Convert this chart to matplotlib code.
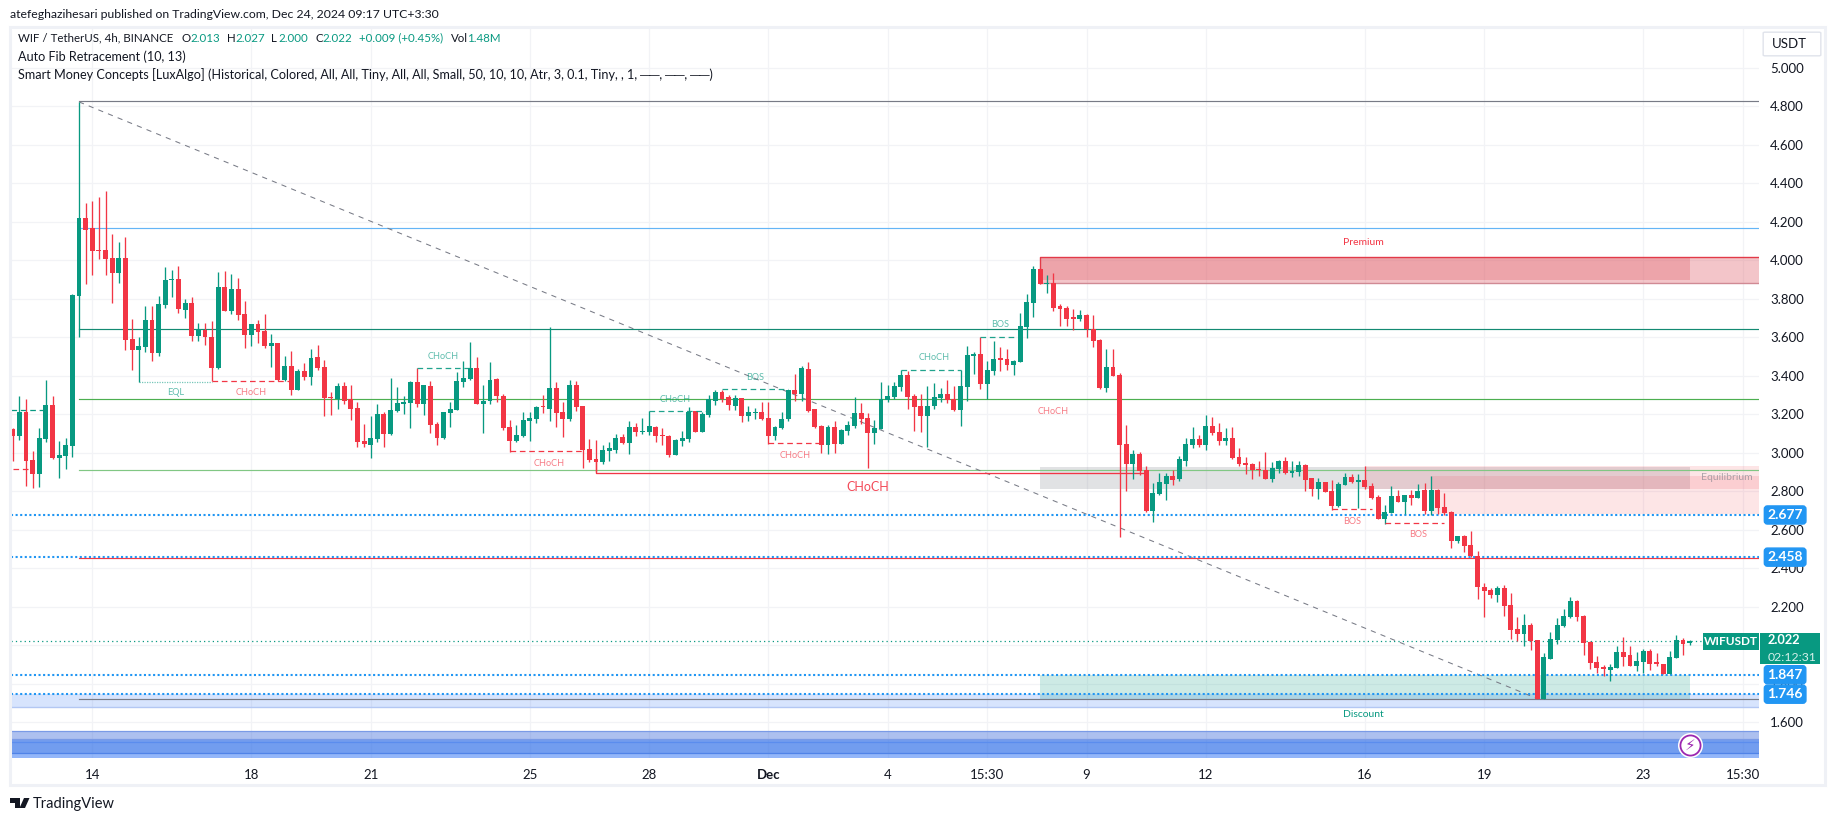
import matplotlib
matplotlib.use("Agg")
import matplotlib.pyplot as plt
from matplotlib.patches import Rectangle, FancyBboxPatch, Polygon
import numpy as np

plt.rcParams['font.family'] = ['Lato', 'DejaVu Sans']

# one 4h candle per entry
opens = [3.122,3.087,3.212,2.962,2.890,3.072,3.248,2.973,2.983,3.035,
         3.815,4.22,4.168,4.052,4.054,4.012,3.934,4.012,3.591,3.534,
         3.55,3.69,3.518,3.768,3.898,3.903,3.742,3.778,3.607,3.638,
         3.602,3.44,3.861,3.737,3.851,3.721,3.612,3.669,3.633,3.555,
         3.57,3.378,3.451,3.326,3.425,3.394,3.498,3.446,3.288,3.279,
         3.347,3.278,3.233,3.061,3.04,3.072,3.201,3.098,3.217,3.254,
         3.259,3.368,3.254,3.347,3.15,3.077,3.207,3.222,3.368,3.383,
         3.441,3.254,3.269,3.383,3.295,3.134,3.061,3.087,3.165,3.176,
         3.24,3.228,3.337,3.212,3.176,3.352,3.243,3.02,2.968,2.952,
         3.009,3.015,3.082,3.051,3.134,3.106,3.108,3.134,3.091,3.087,
         2.989,3.061,3.072,3.217,3.108,3.196,3.269,3.316,3.29,3.243,
         3.285,3.191,3.207,3.212,3.181,3.087,3.129,3.176,3.326,3.306,
         3.435,3.228,3.139,3.041,3.134,3.046,3.113,3.139,3.207,3.181,
         3.103,3.124,3.274,3.29,3.342,3.404,3.295,3.243,3.191,3.243,
         3.285,3.306,3.28,3.222,3.342,3.503,3.513,3.358,3.425,3.487,
         3.487,3.456,3.472,3.654,3.778,3.955,3.877,3.882,3.763,3.752,
         3.701,3.695,3.716,3.641,3.586,3.337,3.446,3.404,3.046,2.942,
         2.994,2.911,2.698,2.785,2.838,2.879,2.864,2.957,3.04,3.072,
         3.04,3.139,3.108,3.061,3.077,2.978,2.947,2.942,2.914,2.911,
         2.864,2.916,2.957,2.895,2.9,2.936,2.867,2.811,2.848,2.801,
         2.723,2.832,2.874,2.848,2.858,2.827,2.77,2.655,2.687,2.775,
         2.744,2.78,2.764,2.806,2.697,2.806,2.718,2.692,2.541,2.567,
         2.52,2.463,2.305,2.289,2.263,2.30,2.211,2.086,2.061,2.107,
         2.029,1.723,1.931,2.029,2.102,2.149,2.232,2.154,2.019,1.915,
         1.889,1.873,1.884,1.967,1.951,1.894,1.915,1.972,1.91,1.905,
         1.853,1.936,2.029,2.013]
highs = [3.130,3.295,3.279,3.009,3.129,3.378,3.295,3.061,3.077,3.825,
         4.823,4.298,4.308,4.329,4.36,4.137,4.095,4.121,3.695,3.602,
         3.763,3.763,3.815,3.965,3.95,3.97,3.799,3.809,3.674,3.674,
         3.685,3.939,3.944,3.929,3.908,3.789,3.669,3.69,3.721,3.617,
         3.57,3.503,3.529,3.435,3.466,3.539,3.56,3.482,3.316,3.363,
         3.368,3.352,3.264,3.15,3.191,3.253,3.212,3.389,3.342,3.295,
         3.373,3.441,3.352,3.373,3.16,3.212,3.264,3.42,3.477,3.576,
         3.498,3.352,3.472,3.389,3.306,3.17,3.144,3.212,3.212,3.243,
         3.30,3.654,3.368,3.264,3.378,3.373,3.243,3.072,3.067,3.041,
         3.056,3.098,3.098,3.165,3.155,3.181,3.217,3.139,3.129,3.093,
         3.072,3.113,3.238,3.217,3.212,3.30,3.326,3.326,3.30,3.30,
         3.285,3.243,3.233,3.264,3.264,3.139,3.212,3.326,3.409,3.451,
         3.472,3.23,3.144,3.144,3.165,3.124,3.165,3.29,3.259,3.207,
         3.17,3.368,3.352,3.368,3.43,3.425,3.306,3.306,3.347,3.363,
         3.337,3.378,3.347,3.43,3.555,3.524,3.602,3.477,3.581,3.55,
         3.539,3.48,3.726,3.825,3.971,3.96,3.924,3.934,3.773,3.763,
         3.747,3.742,3.721,3.716,3.591,3.539,3.539,3.415,3.144,3.015,
         3.004,2.931,2.843,2.895,2.895,2.911,2.983,3.077,3.134,3.092,
         3.196,3.186,3.155,3.129,3.134,3.025,2.978,2.947,2.957,3.004,
         2.952,2.962,2.978,2.957,2.957,2.94,2.87,2.867,2.85,2.858,
         2.848,2.894,2.889,2.889,2.931,2.842,2.78,2.728,2.827,2.806,
         2.782,2.806,2.837,2.842,2.879,2.81,2.79,2.697,2.57,2.572,
         2.593,2.489,2.326,2.30,2.31,2.315,2.274,2.149,2.164,2.118,
         2.03,1.962,2.071,2.144,2.19,2.253,2.237,2.156,2.02,1.946,
         1.899,1.905,1.998,2.045,1.998,1.967,1.983,1.983,1.962,1.905,
         1.972,2.055,2.04,2.027]
lows = [2.957,3.066,2.827,2.817,2.822,3.056,2.968,2.869,2.916,2.978,
        3.60,3.877,3.924,4.007,3.924,3.778,3.882,3.534,3.43,3.366,
        3.524,3.477,3.503,3.752,3.809,3.726,3.70,3.581,3.581,3.56,
        3.371,3.435,3.737,3.721,3.69,3.544,3.555,3.57,3.544,3.446,
        3.373,3.373,3.30,3.326,3.378,3.352,3.43,3.191,3.196,3.227,
        3.253,3.17,3.03,3.03,2.973,3.056,3.03,3.092,3.212,3.202,
        3.129,3.238,3.196,3.101,3.041,3.072,3.134,3.222,3.342,3.378,
        3.254,3.101,3.254,3.264,3.119,3.006,3.056,3.082,3.061,3.155,
        3.207,3.165,3.134,3.082,3.165,3.217,2.921,2.952,2.90,2.942,
        2.957,2.999,3.046,2.994,3.087,3.098,3.093,3.056,3.041,2.978,
        2.989,3.035,3.056,3.108,3.108,3.187,3.248,3.264,3.222,3.222,
        3.16,3.165,3.176,3.17,3.046,3.067,3.124,3.165,3.269,3.269,
        3.212,3.129,3.0,2.994,3.0,3.046,3.093,3.129,3.15,2.921,
        3.046,3.124,3.264,3.28,3.321,3.228,3.113,3.108,3.03,3.228,
        3.264,3.26,3.217,3.139,3.269,3.409,3.332,3.28,3.404,3.425,
        3.43,3.404,3.472,3.596,3.706,3.875,3.83,3.737,3.659,3.659,
        3.638,3.685,3.602,3.55,3.331,3.316,3.399,2.562,2.801,2.864,
        2.885,2.692,2.64,2.781,2.755,2.833,2.853,2.931,3.025,3.03,
        3.015,3.092,3.04,3.04,2.968,2.931,2.89,2.864,2.879,2.864,
        2.848,2.895,2.89,2.874,2.879,2.801,2.775,2.759,2.794,2.702,
        2.718,2.832,2.842,2.712,2.811,2.759,2.655,2.629,2.687,2.744,
        2.681,2.728,2.764,2.681,2.676,2.681,2.676,2.505,2.53,2.484,
        2.46,2.24,2.149,2.248,2.227,2.154,2.035,2.024,1.998,1.977,
        1.723,1.723,1.931,2.009,2.097,2.144,2.128,1.951,1.879,1.858,
        1.842,1.816,1.884,1.894,1.894,1.868,1.858,1.873,1.894,1.853,
        1.853,1.936,1.951,2.0]
closes = [3.087,3.212,2.957,2.890,3.077,3.248,2.973,2.988,3.040,3.820,
          4.22,4.158,4.048,4.048,4.007,3.934,4.012,3.586,3.534,3.555,
          3.69,3.518,3.773,3.898,3.903,3.747,3.778,3.607,3.643,3.602,
          3.44,3.861,3.737,3.851,3.716,3.612,3.669,3.628,3.555,3.57,
          3.378,3.451,3.326,3.425,3.394,3.492,3.44,3.285,3.283,3.347,
          3.269,3.227,3.056,3.046,3.077,3.201,3.098,3.222,3.259,3.264,
          3.368,3.254,3.352,3.144,3.077,3.212,3.228,3.373,3.389,3.441,
          3.254,3.269,3.378,3.295,3.129,3.061,3.093,3.17,3.181,3.238,
          3.236,3.337,3.207,3.176,3.352,3.238,3.015,2.963,2.952,3.015,
          3.025,3.077,3.051,3.134,3.108,3.113,3.139,3.087,3.087,2.989,
          3.067,3.077,3.212,3.108,3.202,3.278,3.316,3.278,3.248,3.285,
          3.191,3.212,3.21,3.176,3.087,3.134,3.176,3.326,3.306,3.441,
          3.217,3.134,3.041,3.134,3.046,3.118,3.144,3.207,3.176,3.103,
          3.129,3.28,3.295,3.347,3.404,3.29,3.238,3.191,3.243,3.29,
          3.306,3.274,3.222,3.347,3.508,3.513,3.358,3.43,3.487,3.484,
          3.456,3.477,3.659,3.784,3.955,3.877,3.882,3.752,3.747,3.695,
          3.697,3.716,3.641,3.581,3.337,3.446,3.399,3.04,2.942,2.994,
          2.905,2.698,2.791,2.848,2.879,2.859,2.968,3.046,3.072,3.04,
          3.139,3.103,3.061,3.077,2.973,2.942,2.936,2.911,2.909,2.864,
          2.921,2.957,2.895,2.905,2.936,2.859,2.811,2.848,2.796,2.723,
          2.837,2.874,2.848,2.858,2.822,2.764,2.655,2.692,2.775,2.744,
          2.78,2.764,2.801,2.697,2.806,2.712,2.687,2.541,2.567,2.515,
          2.463,2.302,2.284,2.263,2.30,2.206,2.081,2.061,2.107,2.024,
          1.723,1.941,2.035,2.107,2.154,2.232,2.149,2.014,1.91,1.884,
          1.879,1.889,1.967,1.941,1.894,1.92,1.972,1.905,1.905,1.853,
          1.941,2.029,2.009,2.022]

# x axis: candle number of each label
tick_pos = [12,36,54,78,96,114,132,147,162,180,204,222,246,261]
tick_txt = ["14","18","21","25","28","Dec","4","15:30","9","12","16","19","23","15:30"]
price_ticks = [1.6,1.8,2.0,2.2,2.4,2.6,2.8,3.0,3.2,3.4,3.6,3.8,4.0,4.2,4.4,4.6,4.8,5.0]

# fib levels, all start at the swing high candle
fib_levels = [4.826,4.166,3.642,3.278,2.911,2.454,1.722]
fib_colors = ["#787b86","#64b5f6","#138a72","#4caf50","#81c784","#f23645","#787b86"]
dotted_levels = [2.677,2.458,1.847,1.746]

# smart money structure: level, first candle, last candle, label, label candle, label price
up_struct = [(3.366,19,30,"EQL",24.5,3.312),
             (3.439,61,69,"CHoCH",65,3.50),
             (3.215,96,105,"CHoCH",100,3.278),
             (3.33,107,117,"BOS",112,3.39),
             (3.428,134,143,"CHoCH",139,3.496),
             (3.60,146,152,"BOS",149,3.668)]
down_struct = [(3.371,30,42,"CHoCH",36,3.312),
               (3.008,75,86,"CHoCH",81,2.945),
               (3.049,114,122,"CHoCH",118,2.985),
               (2.706,199,205,"BOS",202,2.641),
               (2.633,207,216,"BOS",212,2.575)]

up = "#089981"
down = "#f23645"
ink = "#131722"
W, H = 1835, 821

fig = plt.figure(figsize=(W/100, H/100), dpi=100, facecolor="white")
ax = fig.add_axes([11/W, 1-758/H, (1759-11)/W, (758-28)/H])
ax.set_xlim(-0.266, 263.46)
ax.set_ylim(1.4145, 5.207)
right = 263.46

# frame round the whole chart
fig.add_artist(Rectangle((10/W, 1-785/H), 1815/W, 758/H, transform=fig.transFigure, fill=False, ec="#eff1f6", lw=2.2))

ax.set_axisbelow(True)
ax.grid(True, color="#f2f3f6", lw=0.9)
ax.set_xticks(tick_pos)
ax.set_xticklabels(tick_txt, fontsize=9.5, color=ink)
ax.get_xticklabels()[5].set_fontweight("bold")
ax.yaxis.tick_right()
ax.set_yticks(price_ticks)
ax.set_yticklabels(["%.3f" % p for p in price_ticks], fontsize=9.5, color=ink)
ax.tick_params(axis="both", length=0)
ax.tick_params(axis="y", pad=8)
ax.tick_params(axis="x", pad=8)
for s in ax.spines.values():
    s.set_visible(False)

# blue bands
ax.axhspan(1.678, 1.746, color="#3b78f5", alpha=0.2, lw=0, zorder=1)
ax.axhline(1.678, color="#b3c7f3", lw=1, zorder=1)
ax.axhspan(1.512, 1.555, color="#4a74dc", alpha=0.45, lw=0, zorder=1)
ax.axhspan(1.442, 1.512, color="#2f6fe8", alpha=0.68, lw=0, zorder=1)
ax.axhspan(1.4145, 1.442, color="#3b7bf5", alpha=0.55, lw=0, zorder=1)
for lv, c in [(1.555,"#7a9ae6"),(1.512,"#7a9ae6"),(1.498,"#5b8dee"),(1.442,"#4f83e8")]:
    ax.axhline(lv, color=c, lw=0.9, zorder=1)

# order block / zones
ax.add_patch(Rectangle((155,3.88), right-155, 0.136, fc="#e0606a", alpha=0.36, lw=0, zorder=1))
ax.add_patch(Rectangle((155,3.90), 98, 0.116, fc="#e0505c", alpha=0.28, lw=0, zorder=1))
ax.plot([155,155,right], [3.88,4.016,4.016], color="#e23a48", lw=1, zorder=2)
ax.plot([155,right], [3.88,3.88], color="#d08a94", lw=1, zorder=2)
ax.add_patch(Rectangle((155,2.812), 98, 0.114, fc="#787b86", alpha=0.22, lw=0, zorder=1))
ax.add_patch(Rectangle((204,2.81), right-204, 0.121, fc="#f23645", alpha=0.13, lw=0, zorder=1))
ax.add_patch(Rectangle((214,2.681), right-214, 0.198, fc="#f23645", alpha=0.13, lw=0, zorder=1))
ax.add_patch(Rectangle((155,1.722), 98, 0.124, fc="#089981", alpha=0.2, lw=0, zorder=1))

# fib lines and the diagonal
for lv, c in zip(fib_levels, fib_colors):
    ax.plot([10,right], [lv,lv], color=c, lw=0.85, zorder=2)
ax.plot([10,230], [4.823,1.723], color="#787b86", lw=0.75, ls=(0,(5,5)), zorder=2)
for lv in dotted_levels:
    ax.axhline(lv, color="#2196f3", lw=1.5, ls=(0,(1,1.2)), zorder=3, dash_capstyle="butt")
ax.axhline(closes[-1], color=up, lw=0.9, ls=(0,(1,2.5)), zorder=3)

# candles
n = len(opens)
xs = np.arange(n)
o = np.array(opens)
c = np.array(closes)
cols = [up if c[i] >= o[i] else down for i in range(n)]
ax.vlines(xs, lows, highs, colors=cols, lw=0.95, zorder=4)
ax.bar(xs, np.maximum(np.abs(c-o), 0.006), bottom=np.minimum(o, c), width=0.74, color=cols, lw=0, zorder=5)

# structure lines
for lv, a, b, t, tx, ty in up_struct:
    dash = (0,(1,1)) if t == "EQL" else (0,(4.5,3))
    ax.plot([a,b], [lv,lv], color=up, lw=0.9, ls=dash, alpha=0.9 if t != "EQL" else 0.55, zorder=6)
    ax.text(tx, ty, t, color=up, alpha=0.65, fontsize=6.6, ha="center", va="center", zorder=7)
for lv, a, b, t, tx, ty in down_struct:
    ax.plot([a,b], [lv,lv], color=down, lw=0.9, ls=(0,(4.5,3)), zorder=6)
    ax.text(tx, ty, t, color=down, alpha=0.65, fontsize=6.6, ha="center", va="center", zorder=7)
ax.plot([-0.2,5], [3.221,3.221], color=up, lw=0.9, ls=(0,(4.5,3)), zorder=3)
ax.plot([0,2.4], [2.915,2.915], color=down, lw=0.9, ls=(0,(4.5,3)), zorder=3)
ax.plot([88,88,171], [2.951,2.896,2.896], color=down, lw=0.95, zorder=3)
ax.text(129, 2.824, "CHoCH", color=down, alpha=0.9, fontsize=9, ha="center", va="center", zorder=7)
ax.text(157, 3.214, "CHoCH", color=down, alpha=0.65, fontsize=6.6, ha="center", va="center", zorder=7)

ax.text(203.7, 4.095, "Premium", color=down, fontsize=7.5, ha="center", va="center", zorder=7)
ax.text(203.7, 1.643, "Discount", color=up, fontsize=7.5, ha="center", va="center", zorder=7)
ax.text(258.6, 2.871, "Equilibrium", color="#787b86", alpha=0.6, fontsize=7.5, ha="center", va="center", zorder=7)

# lightning badge
ax.plot([253], [1.482], marker="o", ms=17, mfc="white", mec="white", zorder=8)
ax.plot([253], [1.482], marker="o", ms=14.5, mfc="white", mec="#9c27b0", mew=1.3, zorder=8)
ax.text(253, 1.482, "\u26a1", family="DejaVu Sans", color="#9c27b0", fontsize=11, ha="center", va="center", zorder=9)

# price axis labels
trans = ax.get_yaxis_transform()
for lv in dotted_levels:
    ax.text(1.0048, lv, "%.3f" % lv, transform=trans, color="white", fontsize=10, fontweight="bold", va="center", ha="left",
            bbox=dict(boxstyle="round,pad=0.22", fc="#2196f3", ec="#2196f3"), clip_on=False, zorder=10)

def px(x, y):
    return x/W, 1-y/H

fig.add_artist(Rectangle((1703/W, 1-650/H), 56/W, 17/H, transform=fig.transFigure, fc=up, ec="none", zorder=5))
fig.add_artist(Rectangle((1760/W, 1-664/H), 60/W, 31/H, transform=fig.transFigure, fc=up, ec="none", zorder=5))
fig.text(*px(1731, 641.5), "WIFUSDT", color="white", fontsize=8.5, fontweight="bold", ha="center", va="center", zorder=6)
fig.text(*px(1768, 640), "2.022", color="white", fontsize=9.2, fontweight="bold", va="center", zorder=6)
fig.text(*px(1768, 657), "02:12:31", color="#d5f0ea", fontsize=8.8, va="center", zorder=6)

# USDT button
fig.add_artist(FancyBboxPatch((1765/W, 1-55/H), 54/W, 22/H, boxstyle="round,pad=0.001", transform=fig.transFigure, fc="white", ec="#e0e3eb", lw=1))
fig.text(*px(1772, 44), "USDT", color=ink, fontsize=9.5, va="center")

# header and legend
fs = 9.05
fs1 = 8.25
fig.text(*px(10, 14), "atefeghazihesari published on TradingView.com, Dec 24, 2024 09:17 UTC+3:30", color=ink, fontsize=8.8, va="center")
fig.text(*px(18, 38), "WIF / TetherUS, 4h, BINANCE", color=ink, fontsize=fs1, va="center")
legend_bits = [(182,"O",ink),(190,"2.013",up),(227,"H",ink),(235,"2.027",up),(271.5,"L",ink),(278,"2.000",up),
               (315,"C",ink),(322,"2.022",up),(359,"+0.009 (+0.45%)",up),(451,"Vol",ink),(467,"1.48M",up)]
for x, t, col in legend_bits:
    fig.text(*px(x, 38), t, color=col, fontsize=fs1, va="center")
fig.text(*px(18, 57), "Auto Fib Retracement (10, 13)", color=ink, fontsize=fs, va="center")
fig.text(*px(18, 75), "Smart Money Concepts [LuxAlgo] (Historical, Colored, All, All, Tiny, All, All, Small, 50, 10, 10, Atr, 3, 0.1, Tiny, , 1, \u2500\u2500, \u2500\u2500, \u2500\u2500)", color=ink, fontsize=fs, va="center")

# TradingView logo
fig.add_artist(Polygon([px(10,798),px(20,798),px(20,808),px(15,808),px(15,802.5),px(10,802.5)], transform=fig.transFigure, fc=ink, ec="none"))
fig.add_artist(Polygon([px(24,798),px(29.5,798),px(25,808),px(19.5,808)], transform=fig.transFigure, fc=ink, ec="none"))
fig.text(*px(33, 803.5), "TradingView", color=ink, fontsize=10.5, va="center")

fig.savefig("out.png", dpi=100)
